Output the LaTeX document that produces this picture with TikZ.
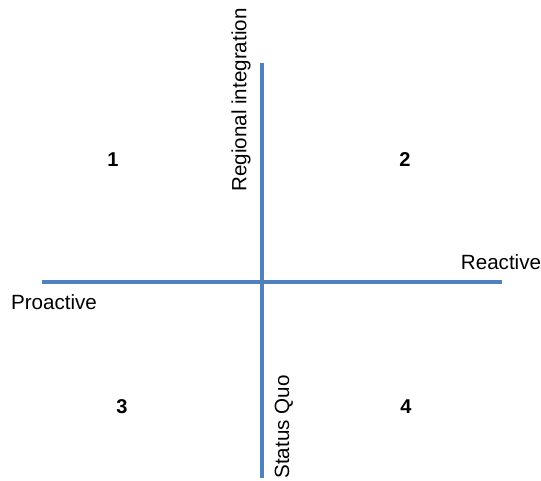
\documentclass[tikz,border=0pt]{standalone}
\usepackage{fontspec}
\setmainfont{Liberation Sans}
\usepackage{tikz}
\usetikzlibrary{positioning}
\definecolor{axisblue}{RGB}{79,129,189}

\begin{document}
\begin{tikzpicture}[
    x=1pt, y=-1pt,
    axis/.style={draw=axisblue, line width=3.4pt},
    every node/.style={font=\fontsize{20.6}{24}\selectfont, inner sep=0pt},
    quadrant/.style={font=\fontsize{20}{24}\selectfont\bfseries}
]
   \useasboundingbox (0,0) rectangle (541,480);

   % Axis ends
   \coordinate (top) at (262,63);
   \coordinate (bottom) at (262,478);
   \coordinate (left) at (42,282);
   \coordinate (right) at (502,282);

   % Axes
   \draw[axis] (top) -- (bottom);
   \draw[axis] (left) -- (right);

   % Axis labels
   \node[rotate=90] (regional) at (241,100) {Regional integration};
   \node[rotate=90] (statusquo) at (284,427) {Status Quo};
   \node (reactive) at (501,262) {Reactive};
   \node (proactive) at (54,302) {Proactive};

   % Quadrants
   \node[quadrant] (q1) at (113,160) {1};
   \node[quadrant] (q2) at (405,160) {2};
   \node[quadrant] (q3) at (122,407) {3};
   \node[quadrant] (q4) at (406,407) {4};

\end{tikzpicture}
\end{document}
